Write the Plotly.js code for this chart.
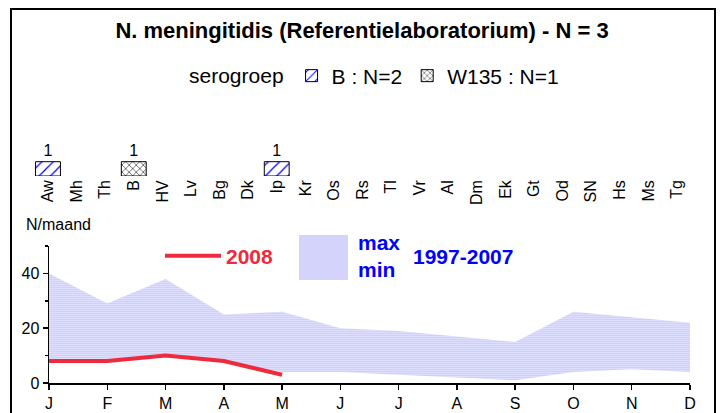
<!DOCTYPE html>
<html>
<head>
<meta charset="utf-8">
<script src="https://cdn.plot.ly/plotly-3.0.1.min.js"></script>
<style>
  body { margin: 0; background: white; }
  #chart { width: 724px; height: 413px; }
</style>
</head>
<body>
<div id="chart"></div>
<script>
// Districts (upper panel) and cases per serogroup
const districts = ["Aw", "Mh", "Th", "B", "HV", "Lv", "Bg", "Dk", "Ip", "Kr", "Os", "Rs",
  "Tl", "Vr", "Al", "Dm", "Ek", "Gt", "Od", "SN", "Hs", "Ms", "Tg"];
const serogroupB    = [1, 0, 0, 0, 0, 0, 0, 0, 1, 0, 0, 0, 0, 0, 0, 0, 0, 0, 0, 0, 0, 0, 0];
const serogroupW135 = [0, 0, 0, 1, 0, 0, 0, 0, 0, 0, 0, 0, 0, 0, 0, 0, 0, 0, 0, 0, 0, 0, 0];

// Monthly counts (lower panel)
const months = ["J", "F", "M", "A", "M", "J", "J", "A", "S", "O", "N", "D"];
const cases2008 = [8, 8, 10, 8, 3];
const max9707 = [40, 29, 38, 25, 26, 20, 19, 17, 15, 26, 24, 22];
const min9707 = [8, 8, 10, 8, 4, 4, 3, 2, 1, 4, 5, 4];

const W = 724, H = 413;
const px = x => x / W;
const py = y => 1 - y / H;
const font = "Arial, 'Liberation Sans', sans-serif";
const red = "#ee2a3c";
const blue = "#0000ff";

function sum(a) {
  return a.reduce((s, v) => s + v, 0);
}
function labels(a) {
  return a.map(v => v > 0 ? String(v) : "");
}
function nonZero(a) {
  return a.map(v => v > 0 ? v : null);
}

const monthIdx = months.map((m, i) => i);

var traces = [
  // serogroups per district
  {
    x: districts, y: nonZero(serogroupB), type: "bar",
    xaxis: "x2", yaxis: "y2", width: 0.87,
    name: "B : N=" + sum(serogroupB),
    text: labels(serogroupB), textposition: "outside", cliponaxis: false,
    textfont: {size: 16, color: "black"},
    marker: {
      color: "white",
      line: {color: "black", width: 1},
      pattern: {shape: "/", fgcolor: blue, bgcolor: "white", size: 8, solidity: 0.15}
    },
    hoverinfo: "skip"
  },
  {
    x: districts, y: nonZero(serogroupW135), type: "bar",
    xaxis: "x2", yaxis: "y2", width: 0.87,
    name: "W135 : N=" + sum(serogroupW135),
    text: labels(serogroupW135), textposition: "outside", cliponaxis: false,
    textfont: {size: 16, color: "black"},
    marker: {
      color: "white",
      line: {color: "black", width: 1},
      pattern: {shape: "x", fgcolor: "black", bgcolor: "white", size: 5, solidity: 0.2}
    },
    hoverinfo: "skip"
  },
  // 1997-2007 min/max band
  {
    x: monthIdx, y: min9707, type: "scatter", mode: "lines",
    line: {width: 0, color: blue}, showlegend: false, hoverinfo: "skip"
  },
  {
    x: monthIdx, y: max9707, type: "scatter", mode: "lines",
    line: {width: 0, color: blue}, fill: "tonexty", fillcolor: "white",
    fillpattern: {shape: ".", fgcolor: "#5050ff", bgcolor: "white", size: 2, solidity: 0.3},
    showlegend: false, hoverinfo: "skip"
  },
  // 2008
  {
    x: monthIdx.slice(0, cases2008.length), y: cases2008, type: "scatter", mode: "lines",
    name: "2008", legend: "legend2",
    line: {color: red, width: 4}
  }
];

var layout = {
  width: W, height: H,
  margin: {l: 0, r: 0, t: 0, b: 0},
  paper_bgcolor: "white", plot_bgcolor: "rgba(0,0,0,0)",
  font: {family: font, size: 16, color: "black"},
  barmode: "overlay",
  title: {
    text: "N. meningitidis (Referentielaboratorium) - N = 3",
    font: {family: font, size: 22, weight: "bold", color: "black"},
    x: 0.5, xanchor: "center", y: py(30), yanchor: "middle"
  },
  xaxis: {
    domain: [px(49), px(690)], range: [0, 11], anchor: "y",
    tickvals: monthIdx, ticktext: months,
    showline: true, linecolor: "black", linewidth: 1.5,
    ticks: "outside", ticklen: 5, tickwidth: 1.5, tickcolor: "black",
    showgrid: false, zeroline: false, tickfont: {size: 16}
  },
  yaxis: {
    domain: [py(383), py(246)], range: [0, 50], anchor: "x",
    dtick: 20, showline: true, linecolor: "black", linewidth: 1.5,
    ticks: "outside", ticklen: 5, tickwidth: 1.5, tickcolor: "black",
    minor: {dtick: 10, ticks: "outside", ticklen: 3, tickcolor: "black", showgrid: false},
    showgrid: false, zeroline: false, tickfont: {size: 16}
  },
  xaxis2: {
    domain: [px(33.7), px(691.3)], range: [-0.5, 22.5], anchor: "y2",
    type: "category", tickangle: -90, ticks: "", showline: false,
    showgrid: false, zeroline: false, tickfont: {size: 16}
  },
  yaxis2: {
    domain: [py(176), py(147.4)], range: [0, 2], anchor: "x2",
    visible: false, showgrid: false, zeroline: false
  },
  legend: {
    orientation: "h", traceorder: "normal",
    x: px(187), xanchor: "left", y: py(76), yanchor: "middle",
    title: {text: "serogroep", side: "left", font: {size: 21}},
    font: {size: 21}, bgcolor: "rgba(0,0,0,0)", itemclick: false
  },
  legend2: {
    orientation: "h", itemwidth: 56,
    x: px(160), xanchor: "left", y: py(256), yanchor: "middle",
    font: {size: 21, weight: "bold", color: red}, bgcolor: "rgba(0,0,0,0)"
  },
  shapes: [
    // outer frame
    {type: "rect", xref: "paper", yref: "paper",
     x0: px(11), x1: px(715), y0: -0.05, y1: py(9),
     line: {color: "black", width: 2}, fillcolor: "rgba(0,0,0,0)"},
    // band legend swatch
    {type: "rect", xref: "paper", yref: "paper",
     x0: px(299), x1: px(348), y0: py(280), y1: py(235),
     line: {width: 0}, fillcolor: "#d3d3fb"}
  ],
  annotations: [
    {text: "N/maand", xref: "paper", yref: "paper", x: px(24), y: py(224),
     xanchor: "left", yanchor: "middle", showarrow: false, font: {size: 16}},
    {text: "<b>max</b>", xref: "paper", yref: "paper", x: px(356), y: py(242),
     xanchor: "left", yanchor: "middle", showarrow: false, font: {size: 21, color: blue}},
    {text: "<b>min</b>", xref: "paper", yref: "paper", x: px(356), y: py(269),
     xanchor: "left", yanchor: "middle", showarrow: false, font: {size: 21, color: blue}},
    {text: "<b>1997-2007</b>", xref: "paper", yref: "paper", x: px(411), y: py(256),
     xanchor: "left", yanchor: "middle", showarrow: false, font: {size: 21, color: blue}}
  ]
};

Plotly.newPlot("chart", traces, layout, {displayModeBar: false, staticPlot: true});
</script>
</body>
</html>
